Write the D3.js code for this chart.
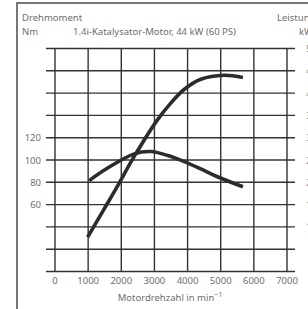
<!DOCTYPE html>
<html>
<head>
<meta charset="utf-8">
<script src="https://cdn.jsdelivr.net/npm/d3@7"></script>
<style>
  body { margin: 0; background: #fff; }
  svg { display: block; }
</style>
</head>
<body>
<svg id="chart" width="308" height="309"></svg>
<script>

// drehzahl ticks (min^-1)
let rpm_ticks = [0, 1000, 2000, 3000, 4000, 5000, 6000, 7000];
// left axis labels (Nm) and right axis labels (kW)
let nm_labels = [60, 80, 100, 120];
let kw_labels = [10, 15, 20, 25, 30, 35, 40, 45, 50];

// torque curve, Nm
let torque_rpm = [1030, 1600, 2390, 2890, 3400, 3900, 4400, 4900, 5670];
let torque_nm  = [81.5, 93, 105.5, 107.6, 104, 98.6, 92, 85, 76];

// power curve, kW
let power_rpm = [985, 1450, 1890, 2390, 3090, 3500, 3895, 4400, 5100, 5670];
let power_kw  = [7.7, 13.6, 19.2, 25.8, 34, 37.8, 40.8, 43.1, 44, 43.5];


function draw_chart( doc_id ){

    let svg = d3.select(doc_id);
    let gray = "#6e6e6e";
    let ink = "#333";
    let font = "'Noto Sans', sans-serif";

    let x = d3.scaleLinear().domain([0, 7000]).range([55, 287]);
    let yNm = d3.scaleLinear().domain([0, 200]).range([271.5, 48.5]);
    let yKw = d3.scaleLinear().domain([0, 50]).range([271.5, 48.5]);

    // outer frame (left + top edge)
    svg.append("path")
        .attr("d", "M17,309 L17,3 L308,3")
        .attr("fill", "none")
        .attr("stroke", "#777")
        .attr("stroke-width", 2);

    // grid
    let grid = svg.append("g").attr("stroke", ink).attr("stroke-width", 1.4);
    grid.selectAll("line.h")
        .data(d3.range(0, 201, 20))
        .enter().append("line")
            .attr("x1", 46).attr("x2", 295)
            .attr("y1", d => yNm(d)).attr("y2", d => yNm(d));
    grid.selectAll("line.v")
        .data(rpm_ticks)
        .enter().append("line")
            .attr("x1", d => x(d)).attr("x2", d => x(d))
            .attr("y1", yNm(200)).attr("y2", yNm(0));

    function add_text( g, txt, tX, tY, anchor="start", size="9.5px" ){
        return g.append("text")
            .attr("x", tX).attr("y", tY)
            .attr("fill", gray)
            .attr("font-family", font)
            .attr("font-size", size)
            .attr("text-anchor", anchor)
            .text(txt);
    }

    let labels = svg.append("g");

    // x tick labels
    rpm_ticks.forEach( function(t){
        add_text( labels, String(t), x(t), 284, "middle" );
    });

    // left labels
    nm_labels.forEach( function(v){
        add_text( labels, String(v), 41, yNm(v) + 3.5, "end" );
    });

    // right labels (cut by the window, as in the original scan)
    kw_labels.forEach( function(v){
        add_text( labels, String(v), 306, yKw(v) + 3.5, "start" ).attr("fill", "#999");
    });

    // axis titles
    add_text( labels, "Drehmoment", 22, 21 );
    add_text( labels, "Nm", 22, 35 );
    add_text( labels, "Leistung", 277, 21 );
    add_text( labels, "kW", 299, 35 );
    add_text( labels, "1.4i-Katalysator-Motor, 44 kW (60 PS)", 73, 35 );

    let xt = add_text( labels, "Motordrehzahl in min", 170, 301, "middle" );
    xt.append("tspan").attr("dy", -4).attr("font-size", "7px").text("\u22121");

    // curves
    let line = d3.line().curve(d3.curveCatmullRom.alpha(0.5));

    let torque_pts = torque_rpm.map( (r, i) => [x(r), yNm(torque_nm[i])] );
    let power_pts = power_rpm.map( (r, i) => [x(r), yKw(power_kw[i])] );

    svg.append("g").selectAll("path")
        .data([torque_pts, power_pts])
        .enter().append("path")
            .attr("d", d => line(d))
            .attr("fill", "none")
            .attr("stroke", "#2c2c2c")
            .attr("stroke-width", 3.6)
            .attr("stroke-linecap", "butt");
}

draw_chart("#chart");

</script>
</body>
</html>
